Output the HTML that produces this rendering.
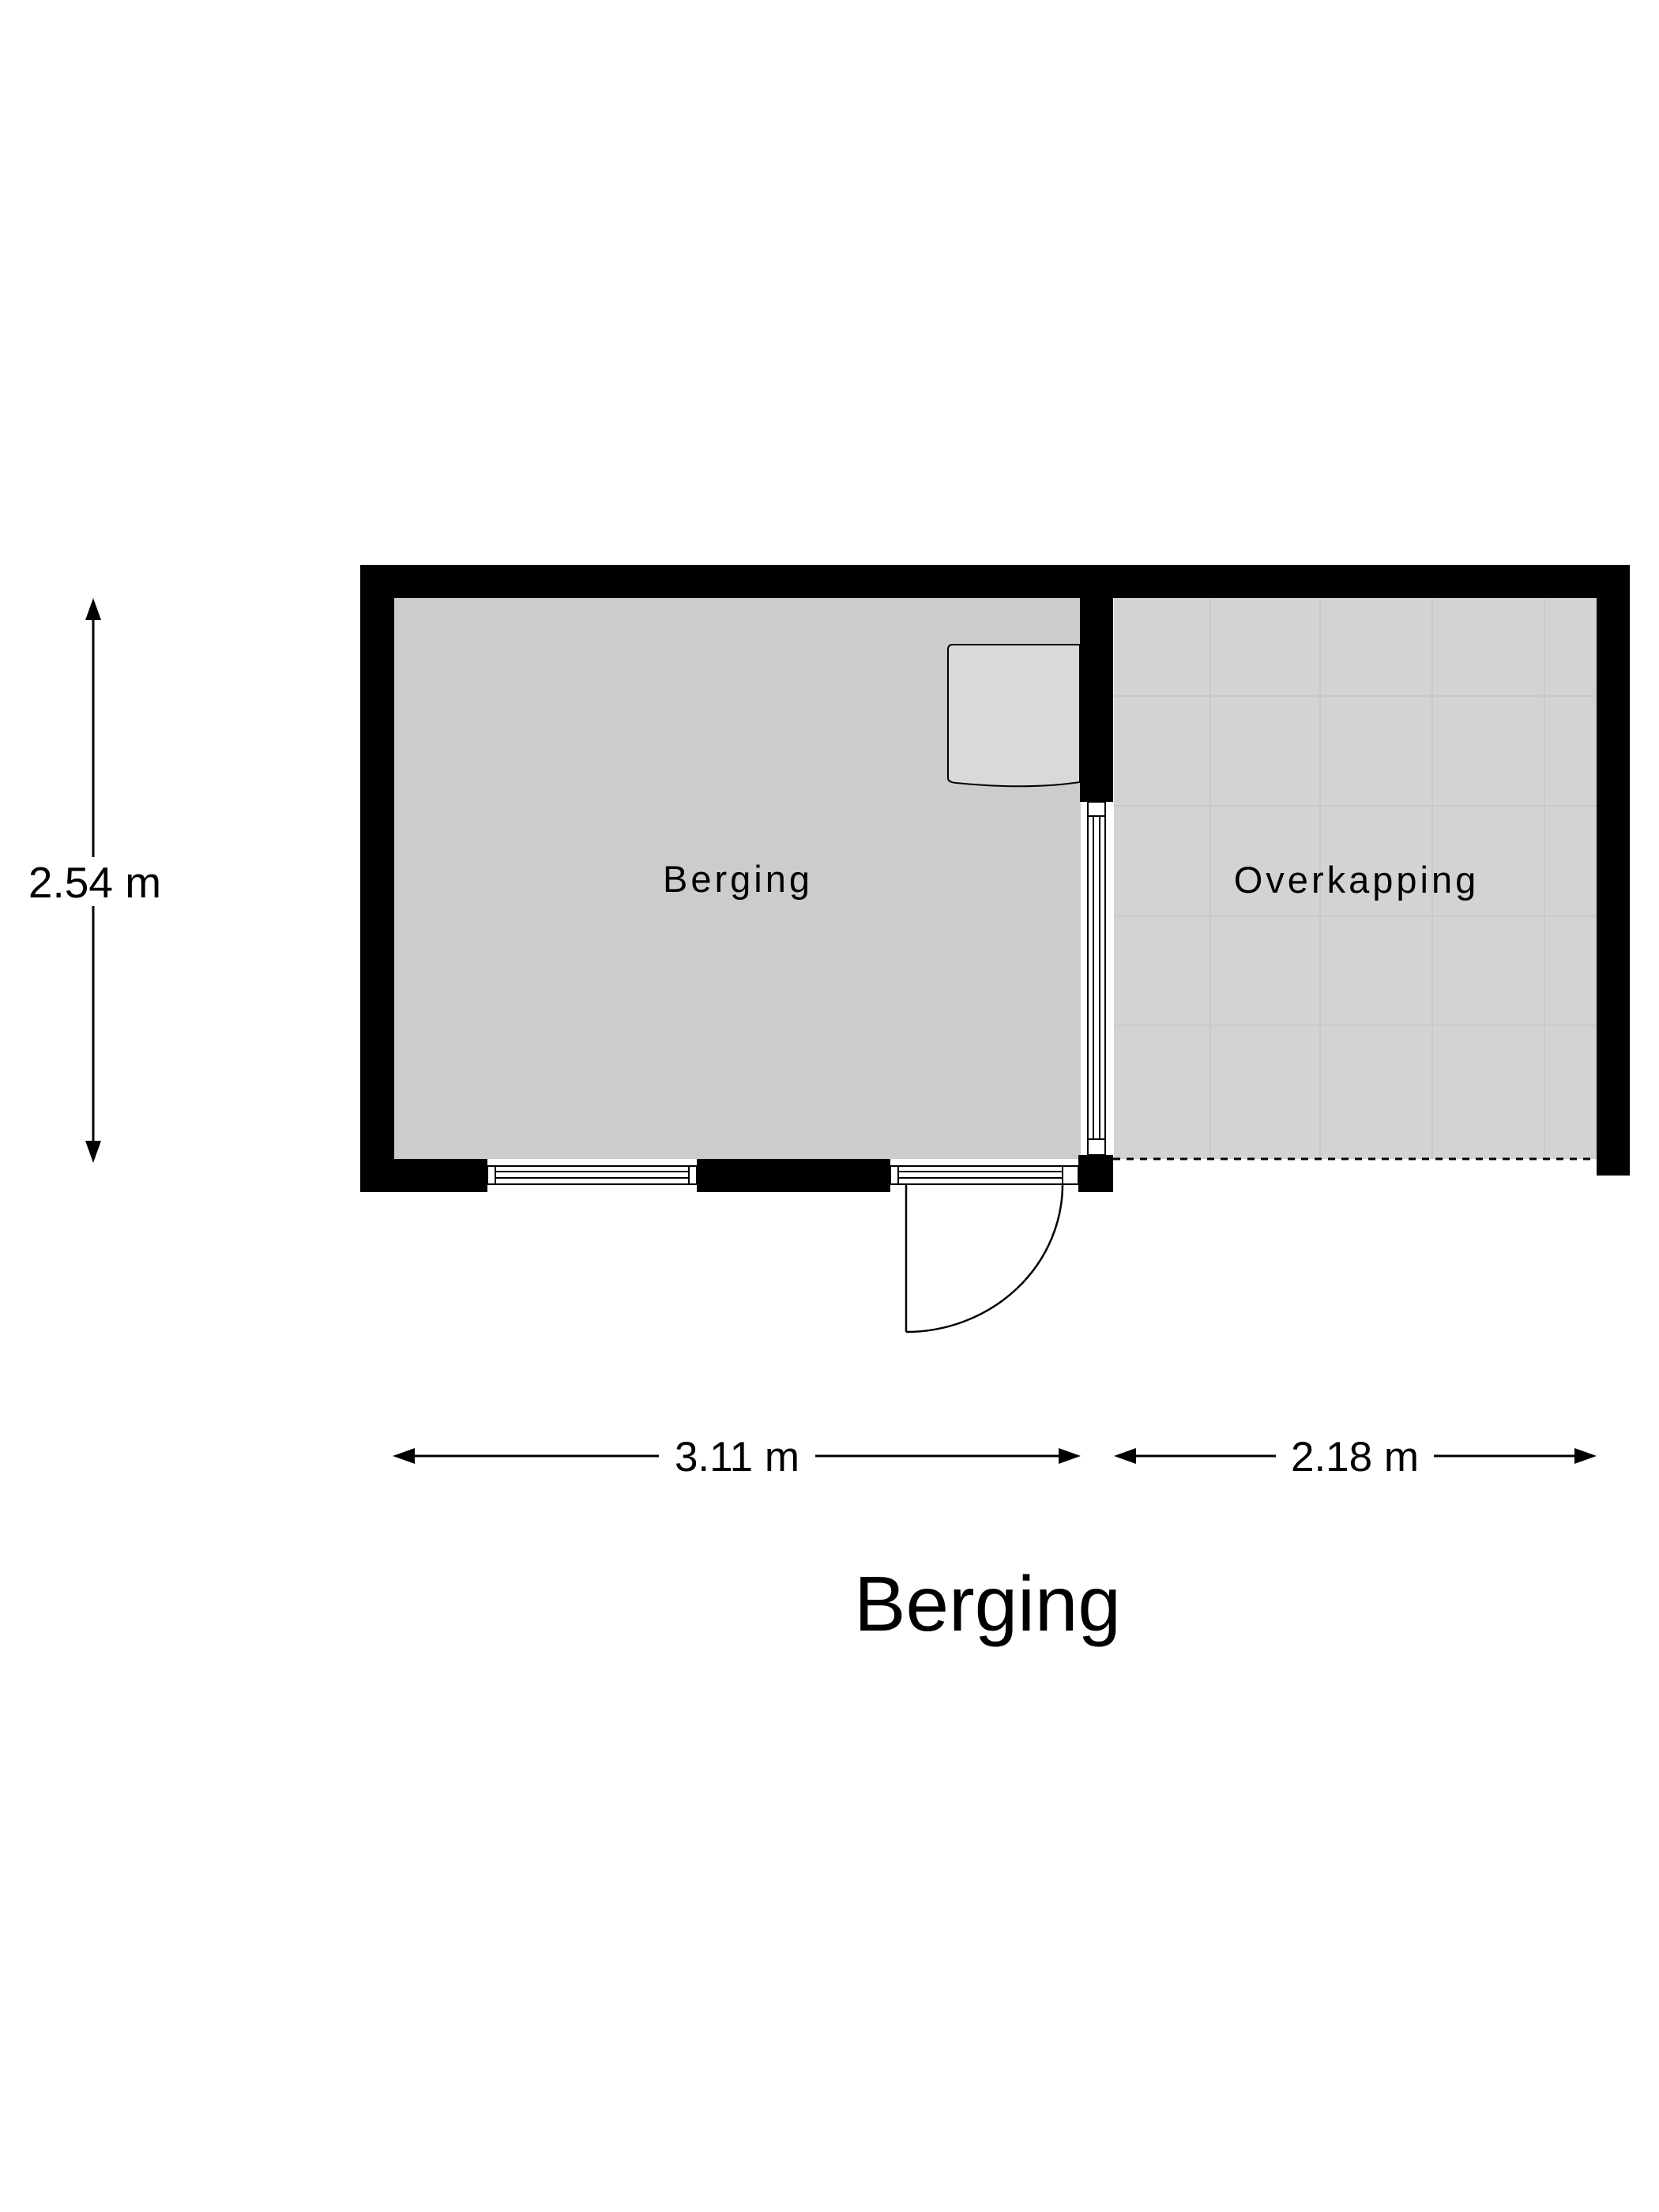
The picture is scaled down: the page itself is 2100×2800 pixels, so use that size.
<!DOCTYPE html>
<html><head><meta charset="utf-8"><style>
html,body{margin:0;padding:0;background:#fff;}
svg{display:block;}
text{font-family:"Liberation Sans",sans-serif;fill:#000;}
</style></head><body>
<svg width="2100" height="2800" viewBox="0 0 2100 2800" xmlns="http://www.w3.org/2000/svg">
<rect x="0" y="0" width="2100" height="2800" fill="#fff"/>
<rect x="499" y="757" width="869" height="710" fill="#cccccc"/>
<rect x="1410" y="757" width="611" height="710" fill="#d3d3d3"/>
<g stroke="#c9c9c9" stroke-width="2">
<line x1="1532" y1="757" x2="1532" y2="1467"/>
<line x1="1671" y1="757" x2="1671" y2="1467"/>
<line x1="1813" y1="757" x2="1813" y2="1467"/>
<line x1="1955" y1="757" x2="1955" y2="1467"/>
<line x1="1410" y1="881" x2="2021" y2="881"/>
<line x1="1410" y1="1020" x2="2021" y2="1020"/>
<line x1="1410" y1="1159" x2="2021" y2="1159"/>
<line x1="1410" y1="1298" x2="2021" y2="1298"/>
</g>
<g fill="#000">
<rect x="456" y="715" width="1607" height="42"/>
<rect x="456" y="715" width="43" height="794"/>
<rect x="2021" y="715" width="42" height="773"/>
<rect x="1367" y="715" width="42" height="300"/>
<rect x="456" y="1467" width="161" height="42"/>
<rect x="882" y="1467" width="245" height="42"/>
<rect x="1365" y="1462" width="44" height="47"/>
</g>
<line x1="1409" y1="1467" x2="2021" y2="1467" stroke="#000" stroke-width="3" stroke-dasharray="9,8"/>
<g fill="#fff" stroke="#000" stroke-width="2">
<rect x="617" y="1476" width="265" height="23"/>
<rect x="617" y="1476" width="10" height="23"/>
<rect x="872" y="1476" width="10" height="23"/>
</g>
<g stroke="#000" stroke-width="2">
<line x1="627" y1="1483" x2="872" y2="1483"/>
<line x1="627" y1="1491" x2="872" y2="1491"/>
</g>
<g fill="#fff" stroke="#000" stroke-width="2">
<rect x="1127" y="1476" width="238" height="23"/>
<rect x="1127" y="1476" width="10" height="23"/>
<rect x="1345" y="1476" width="20" height="23"/>
</g>
<g stroke="#000" stroke-width="2">
<line x1="1137" y1="1483" x2="1345" y2="1483"/>
<line x1="1137" y1="1491" x2="1345" y2="1491"/>
</g>
<line x1="1147" y1="1499" x2="1147" y2="1686" stroke="#000" stroke-width="2.5"/>
<path d="M1147 1686 A198 187 0 0 0 1345 1499" fill="none" stroke="#000" stroke-width="2.5"/>
<rect x="1368" y="1015" width="42" height="447" fill="#fff"/>
<g fill="#fff" stroke="#000" stroke-width="2">
<rect x="1377" y="1015" width="22" height="447"/>
<rect x="1377" y="1015" width="22" height="18"/>
<rect x="1377" y="1442" width="22" height="20"/>
</g>
<g stroke="#000" stroke-width="2">
<line x1="1384" y1="1033" x2="1384" y2="1442"/>
<line x1="1392" y1="1033" x2="1392" y2="1442"/>
</g>
<path d="M1206 816 L1367 816 L1367 990 Q1300 1000 1210 991 Q1200 990 1200 985 L1200 822 Q1200 816 1206 816 Z" fill="#d9d9d9" stroke="#000" stroke-width="2"/>
<text x="934" y="1129" font-size="47" text-anchor="middle" letter-spacing="4">Berging</text>
<text x="1717" y="1130" font-size="47" text-anchor="middle" letter-spacing="4">Overkapping</text>
<line x1="118" y1="780" x2="118" y2="1085" stroke="#000" stroke-width="3"/>
<line x1="118" y1="1147" x2="118" y2="1450" stroke="#000" stroke-width="3"/>
<polygon points="118,757 108,785 128,785" fill="#000"/>
<polygon points="118,1472 108,1444 128,1444" fill="#000"/>
<text x="120" y="1136" font-size="55" text-anchor="middle">2.54 m</text>
<line x1="520" y1="1843" x2="834" y2="1843" stroke="#000" stroke-width="3"/>
<line x1="1032" y1="1843" x2="1345" y2="1843" stroke="#000" stroke-width="3"/>
<polygon points="497,1843 525,1833 525,1853" fill="#000"/>
<polygon points="1368,1843 1340,1833 1340,1853" fill="#000"/>
<text x="933" y="1862" font-size="53" text-anchor="middle">3.11 m</text>
<line x1="1433" y1="1843" x2="1615" y2="1843" stroke="#000" stroke-width="3"/>
<line x1="1815" y1="1843" x2="1998" y2="1843" stroke="#000" stroke-width="3"/>
<polygon points="1410,1843 1438,1833 1438,1853" fill="#000"/>
<polygon points="2021,1843 1993,1833 1993,1853" fill="#000"/>
<text x="1715" y="1862" font-size="53" text-anchor="middle">2.18 m</text>
<text x="1250" y="2064" font-size="98" text-anchor="middle">Berging</text>
</svg>
</body></html>
